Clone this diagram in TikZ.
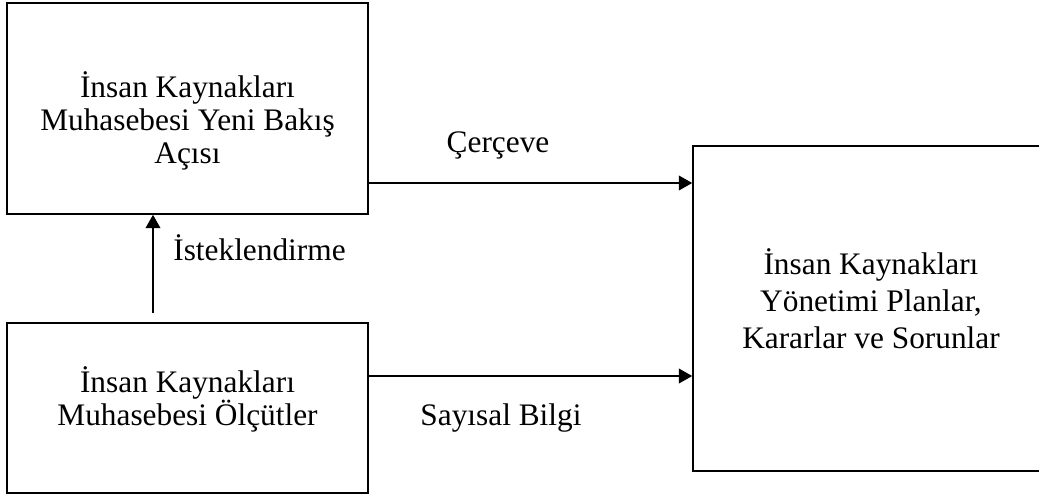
\documentclass[tikz,border=0pt]{standalone}
\usepackage{fontspec}
\setmainfont{Liberation Serif}
\usetikzlibrary{arrows.meta}
\begin{document}
\begin{tikzpicture}[x=0.75pt,y=-0.75pt,
  box/.style={draw,line width=1.2pt,inner sep=0pt,minimum width=#1},
  txt/.style={align=center,font=\fontsize{23.5}{24.8}\selectfont,inner sep=0pt},
  lbl/.style={font=\fontsize{23.5}{24.8}\selectfont,inner sep=0pt,anchor=base},
  arr/.style={line width=1.2pt,-{Triangle[length=10pt,width=11pt]}}]
\useasboundingbox (0,0) rectangle (1039,497);
\node[box=270.75pt,minimum height=158.25pt] (b1) at (187.5,108.5) {};
\node[box=270.75pt,minimum height=127.5pt] (b2) at (187.5,408) {};
\node[box=282.75pt,minimum height=243.75pt] (b3) at (881.5,308.5) {};
\node[txt] (t1) at (187.5,121) {İnsan Kaynakları\\Muhasebesi Yeni Bakış\\Açısı};
\node[txt] (t2) at (187.5,399) {İnsan Kaynakları\\Muhasebesi Ölçütler};
\node[txt,font=\fontsize{23.5}{27.9}\selectfont] (t3) at (871,299) {İnsan Kaynakları\\Yönetimi Planlar,\\Kararlar ve Sorunlar};
\coordinate (s) at (153,313);
\coordinate (ya) at (0,183);
\coordinate (yb) at (0,376);
\draw[arr] (s) -- (s |- b1.south);
\draw[arr] (b1.east |- ya) -- (b3.west |- ya);
\draw[arr] (b2.east |- yb) -- (b3.west |- yb);
\node[lbl] (l1) at (498,152) {Çerçeve};
\node[lbl] (l2) at (259.5,260) {İsteklendirme};
\node[lbl] (l3) at (501,425) {Sayısal Bilgi};
\end{tikzpicture}
\end{document}
